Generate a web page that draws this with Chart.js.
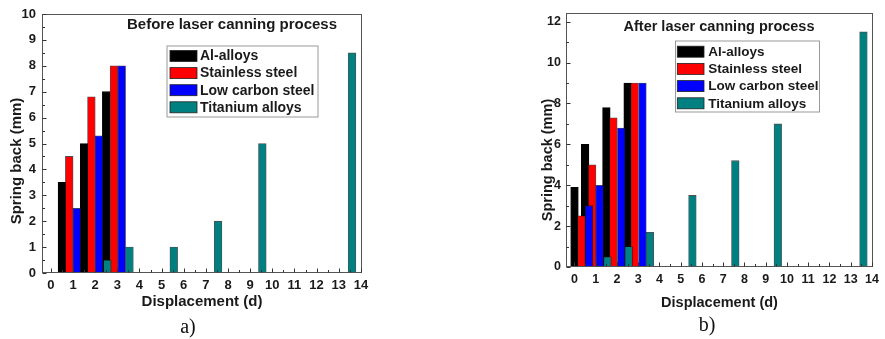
<!DOCTYPE html>
<html><head><meta charset="utf-8">
<script src="https://cdn.jsdelivr.net/npm/chart.js@4.4.1/dist/chart.umd.min.js"></script>
<style>
html,body{margin:0;padding:0;background:#fff;width:885px;height:339px;overflow:hidden;position:relative}
canvas{position:absolute;top:0}
#c1{left:0}
#c2{left:500px}
.cap{position:absolute;font-family:"Liberation Serif","Times New Roman",serif;font-size:20px;color:#111;transform:translate(-50%,-50%);white-space:nowrap}
</style></head><body>
<canvas id="c1" width="390" height="339"></canvas>
<canvas id="c2" width="385" height="339"></canvas>
<div class="cap" style="left:188px;top:326px">a)</div>
<div class="cap" style="left:707px;top:324px">b)</div>
<script>
// ---------- data ----------
const seriesNames = ['Al-alloys', 'Stainless steel', 'Low carbon steel', 'Titanium alloys'];
const seriesColors = ['#000000', '#ff0000', '#0000ff', '#008080'];

// a) Before laser canning process
const beforeAlX = [0.5, 1.5, 2.5];
const beforeAlY = [3.5, 5, 7];
const beforeSsX = [0.83, 1.83, 2.85];
const beforeSsY = [4.5, 6.8, 8];
const beforeLcX = [1.17, 2.17, 3.2];
const beforeLcY = [2.5, 5.3, 8];
const beforeTiX = [2.55, 3.55, 5.55, 7.55, 9.55, 13.6];
const beforeTiY = [0.5, 1, 1, 2, 5, 8.5];

// b) After laser canning process
const afterAlX = [0, 0.5, 1.5, 2.5];
const afterAlY = [3.9, 6, 7.8, 9];
const afterSsX = [0.33, 0.83, 1.83, 2.83];
const afterSsY = [2.5, 5, 7.3, 9];
const afterLcX = [0.68, 1.18, 2.2, 3.2];
const afterLcY = [3, 4, 6.8, 9];
const afterTiX = [1.55, 2.55, 3.55, 5.55, 7.57, 9.57, 13.6];
const afterTiY = [0.5, 1, 1.7, 3.5, 5.2, 7, 11.5];

const xTickLabels = [0,1,2,3,4,5,6,7,8,9,10,11,12,13,14];
const beforeYTicks = [0,1,2,3,4,5,6,7,8,9,10];
const afterYTicks = [0,2,4,6,8,10,12];

const titleBefore = 'Before laser canning process';
const titleAfter = 'After laser canning process';
const xTitle = 'Displacement (d)';
const yTitle = 'Spring back (mm)';

// ---------- helpers ----------
const FONT = '"Liberation Sans", Arial, sans-serif';
const TXT = '#1a1a1a';

function pts(xs, ys) { return xs.map((x, i) => ({x: x, y: ys[i]})); }

function makeDatasets(sets, thick) {
  return sets.map((s, i) => ({
    label: seriesNames[i],
    data: pts(s[0], s[1]),
    backgroundColor: seriesColors[i],
    borderColor: i === 0 ? '#000' : 'rgba(20,20,20,0.75)',
    borderWidth: 0.8,
    barThickness: thick,
    grouped: false,
    order: 4 - i
  }));
}

const decor = {
  id: 'decor',
  afterDatasetsDraw(chart, args, o) {
    const {ctx, chartArea: a, scales: {x, y}} = chart;
    ctx.save();
    // frame
    ctx.strokeStyle = '#555';
    ctx.lineWidth = 1;
    const L = Math.round(a.left) + 0.5, T = Math.round(a.top) + 0.5;
    const R = Math.round(a.right) - 0.5, B = Math.round(a.bottom) - 0.5;
    ctx.strokeRect(L, T, R - L, B - T);
    // inward ticks
    ctx.strokeStyle = '#333';
    ctx.beginPath();
    const xs = o.xTicks, ys = o.yTicks;
    xs.forEach((v, i) => {
      const p = Math.round(x.getPixelForValue(v)) + 0.5;
      ctx.moveTo(p, B); ctx.lineTo(p, B - 4);
      if (i < xs.length - 1) {
        const m = Math.round(x.getPixelForValue((v + xs[i + 1]) / 2)) + 0.5;
        ctx.moveTo(m, B); ctx.lineTo(m, B - 2.5);
      }
    });
    ys.forEach((v, i) => {
      const p = Math.round(y.getPixelForValue(v)) + 0.5;
      ctx.moveTo(L, p); ctx.lineTo(L + 4, p);
      if (i < ys.length - 1) {
        const m = Math.round(y.getPixelForValue((v + ys[i + 1]) / 2)) + 0.5;
        ctx.moveTo(L, m); ctx.lineTo(L + 2.5, m);
      }
    });
    ctx.stroke();
    // in-plot title
    ctx.fillStyle = TXT;
    ctx.font = 'bold ' + o.titleSize + 'px ' + FONT;
    ctx.textAlign = 'center';
    ctx.textBaseline = 'middle';
    ctx.fillText(o.title, o.titleX, o.titleY);
    // y-axis title
    ctx.save();
    ctx.translate(o.yTitleX, o.yTitleY);
    ctx.rotate(-Math.PI / 2);
    ctx.font = 'bold ' + o.yTitleSize + 'px ' + FONT;
    ctx.fillText(yTitle, 0, 0);
    ctx.restore();
    // legend
    const lg = o.legend;
    ctx.fillStyle = '#fff';
    ctx.fillRect(lg.x, lg.y, lg.w, lg.h);
    ctx.strokeStyle = '#999';
    ctx.strokeRect(lg.x + 0.5, lg.y + 0.5, lg.w, lg.h);
    ctx.font = 'bold ' + lg.size + 'px ' + FONT;
    ctx.textAlign = 'left';
    chart.data.datasets.forEach((d, i) => {
      const ry = lg.row0 + i * lg.dy;
      ctx.fillStyle = d.backgroundColor;
      ctx.fillRect(lg.sx, ry - lg.sh / 2, lg.sw, lg.sh);
      ctx.strokeStyle = '#222';
      ctx.lineWidth = 0.8;
      ctx.strokeRect(lg.sx, ry - lg.sh / 2, lg.sw, lg.sh);
      ctx.fillStyle = TXT;
      ctx.fillText(d.label, lg.tx, ry + 0.5);
    });
    ctx.restore();
  }
};

function makeChart(id, cfg) {
  return new Chart(document.getElementById(id), {
    type: 'bar',
    data: {datasets: makeDatasets(cfg.sets, cfg.thick)},
    options: {
      responsive: false,
      animation: false,
      devicePixelRatio: 1,
      layout: {padding: cfg.padding},
      plugins: {
        legend: {display: false},
        tooltip: {enabled: false},
        decor: cfg.decor
      },
      scales: {
        x: {
          type: 'linear',
          min: -0.4, max: 14.05,
          offset: false,
          grid: {display: false, offset: false, drawTicks: false},
          border: {display: false},
          afterBuildTicks: s => { s.ticks = xTickLabels.map(v => ({value: v})); },
          afterFit: s => { s.height = cfg.xHeight; },
          ticks: {
            autoSkip: false, maxRotation: 0, padding: cfg.xPad,
            color: TXT, font: {family: FONT, size: cfg.tickSize, weight: 'bold'},
            callback: v => String(v)
          },
          title: {
            display: true, text: xTitle, color: TXT,
            font: {family: FONT, size: cfg.xTitleSize, weight: 'bold'},
            padding: {top: 0, bottom: cfg.xTitleBottom}
          }
        },
        y: {
          min: 0, max: cfg.ymax,
          grid: {display: false, drawTicks: false},
          border: {display: false},
          afterBuildTicks: s => { s.ticks = cfg.yTicks.map(v => ({value: v})); },
          afterFit: s => { s.width = cfg.yWidth; },
          ticks: {
            padding: cfg.yPad, color: TXT,
            font: {family: FONT, size: cfg.tickSize, weight: 'bold'},
            callback: v => String(v)
          }
        }
      }
    },
    plugins: [decor]
  });
}

makeChart('c1', {
  sets: [[beforeAlX, beforeAlY], [beforeSsX, beforeSsY], [beforeLcX, beforeLcY], [beforeTiX, beforeTiY]],
  thick: 7.7,
  padding: {top: 14, right: 28, bottom: 0, left: 0},
  xHeight: 66, yWidth: 42,
  xPad: 5, yPad: 6, tickSize: 13,
  xTitleSize: 15, xTitleBottom: 28,
  ymax: 10, yTicks: beforeYTicks,
  decor: {
    xTicks: xTickLabels, yTicks: beforeYTicks,
    title: titleBefore, titleSize: 15, titleX: 232, titleY: 25,
    yTitleX: 16.5, yTitleY: 161, yTitleSize: 15,
    legend: {x: 166.5, y: 45.5, w: 151, h: 71, size: 14, row0: 56, dy: 17.1, sx: 170, sw: 27, sh: 11, tx: 200}
  }
});

makeChart('c2', {
  sets: [[afterAlX, afterAlY], [afterSsX, afterSsY], [afterLcX, afterLcY], [afterTiX, afterTiY]],
  thick: 7.6,
  padding: {top: 12, right: 12, bottom: 0, left: 0},
  xHeight: 72, yWidth: 66,
  xPad: 5, yPad: 5, tickSize: 12.5,
  xTitleSize: 14.5, xTitleBottom: 27,
  ymax: 12.45, yTicks: afterYTicks,
  decor: {
    xTicks: xTickLabels, yTicks: afterYTicks,
    title: titleAfter, titleSize: 14.5, titleX: 219, titleY: 27,
    yTitleX: 48, yTitleY: 160, yTitleSize: 14.5,
    legend: {x: 175, y: 40.5, w: 144, h: 71, size: 13.5, row0: 51.7, dy: 17.2, sx: 177.3, sw: 26.7, sh: 11, tx: 208.3}
  }
});
</script>
</body></html>
